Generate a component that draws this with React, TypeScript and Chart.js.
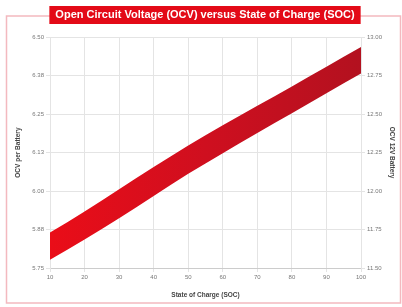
import React, { useEffect, useRef } from "react";
import { Chart, registerables } from "chart.js";

Chart.register(...registerables);

const soc = [10, 20, 30, 40, 50, 60, 70, 80, 90, 100];
const ocvUpper = [5.865, 5.934, 6.006, 6.078, 6.148, 6.214, 6.277, 6.34, 6.404, 6.468];
const ocvLower = [5.777, 5.843, 5.912, 5.984, 6.056, 6.123, 6.189, 6.253, 6.318, 6.382];
const leftTicks = [5.75, 5.875, 6.0, 6.125, 6.25, 6.375, 6.5];
const rightTicks = [11.5, 11.75, 12.0, 12.25, 12.5, 12.75, 13.0];
const xTicks = [10, 20, 30, 40, 50, 60, 70, 80, 90, 100];

const titleText = "Open Circuit Voltage (OCV) versus State of Charge (SOC)";
const xTitle = "State of Charge (SOC)";
const yTitle = "OCV per Battery";
const y2Title = "OCV 12V Battery";

const FONT = "'Liberation Sans', Arial, sans-serif";

const framePlugin = {
  id: "frame",
  beforeDraw(chart: any) {
    const ctx = chart.ctx;
    ctx.save();
    ctx.fillStyle = "#ffffff";
    ctx.fillRect(0, 0, chart.width, chart.height);
    ctx.strokeStyle = "#f3b9bf";
    ctx.lineWidth = 1.5;
    ctx.strokeRect(6.5, 16, 394, 287);
    // title box
    ctx.font = `bold 11px ${FONT}`;
    const w = ctx.measureText(titleText).width;
    const cx = chart.titleBlock
      ? chart.titleBlock.left + chart.titleBlock.width / 2
      : chart.width / 2;
    ctx.fillStyle = "#e30a17";
    ctx.fillRect(cx - w / 2 - 6, 6, w + 12, 18);
    ctx.restore();
  },
};

export default function App() {
  const ref = useRef<HTMLCanvasElement | null>(null);

  useEffect(() => {
    if (!ref.current) return;
    const makeGradient = (ctx: any) => {
      const chart = ctx.chart;
      const area = chart.chartArea;
      if (!area) return "#d0101c";
      const g = chart.ctx.createLinearGradient(area.left, 0, area.right, 0);
      g.addColorStop(0, "#ea0d18");
      g.addColorStop(0.5, "#cf0f1f");
      g.addColorStop(1, "#b3111f");
      return g;
    };
    const chart = new Chart(ref.current, {
      type: "line",
      data: {
        datasets: [
          {
            label: "lower",
            data: soc.map((x, i) => ({ x, y: ocvLower[i] })),
            borderWidth: 0,
            pointRadius: 0,
            fill: false,
            cubicInterpolationMode: "monotone",
            borderColor: "rgba(0,0,0,0)",
          },
          {
            label: "upper",
            data: soc.map((x, i) => ({ x, y: ocvUpper[i] })),
            borderWidth: 0,
            pointRadius: 0,
            fill: "-1",
            cubicInterpolationMode: "monotone",
            borderColor: "rgba(0,0,0,0)",
            backgroundColor: makeGradient,
          },
        ],
      },
      options: {
        animation: false,
        responsive: false,
        layout: { padding: { left: 10, right: 2, top: 0, bottom: 4 } },
        plugins: {
          legend: { display: false },
          tooltip: { enabled: false },
          title: {
            display: true,
            text: titleText,
            color: "#ffffff",
            font: { family: FONT, size: 11, weight: "bold" },
            padding: { top: 8, bottom: 16 },
          },
        },
        scales: {
          x: {
            type: "linear",
            min: 10,
            max: 100,
            afterBuildTicks: (s: any) => {
              s.ticks = xTicks.map((v) => ({ value: v }));
            },
            afterFit: (s: any) => {
              s.height = 35;
            },
            ticks: {
              color: "#777",
              font: { family: FONT, size: 6 },
              padding: 2,
              maxRotation: 0,
            },
            grid: { color: "#e4e4e4", tickLength: 4 },
            border: { color: "#cccccc" },
            title: {
              display: true,
              text: xTitle,
              color: "#444",
              font: { family: FONT, size: 6.5, weight: "bold" },
              padding: { top: 2, bottom: 4 },
            },
          },
          y: {
            type: "linear",
            position: "left",
            min: 5.75,
            max: 6.5,
            afterBuildTicks: (s: any) => {
              s.ticks = leftTicks.map((v) => ({ value: v }));
            },
            afterFit: (s: any) => {
              s.width = 40;
            },
            ticks: {
              color: "#777",
              font: { family: FONT, size: 6 },
              padding: 2,
              callback: (v: any) => Number(v).toFixed(2),
            },
            grid: { color: "#e4e4e4", tickLength: 4 },
            border: { color: "#e4e4e4" },
            title: {
              display: true,
              text: yTitle,
              color: "#444",
              font: { family: FONT, size: 6.5, weight: "bold" },
              padding: { top: 4, bottom: 2 },
            },
          },
          y2: {
            type: "linear",
            position: "right",
            min: 11.5,
            max: 13.0,
            afterBuildTicks: (s: any) => {
              s.ticks = rightTicks.map((v) => ({ value: v }));
            },
            afterFit: (s: any) => {
              s.width = 39;
            },
            ticks: {
              color: "#777",
              font: { family: FONT, size: 6 },
              padding: 2,
              callback: (v: any) => Number(v).toFixed(2),
            },
            grid: { drawOnChartArea: false, color: "#e4e4e4", tickLength: 4 },
            border: { color: "#e4e4e4" },
            title: {
              display: true,
              text: y2Title,
              color: "#444",
              font: { family: FONT, size: 6.5, weight: "bold" },
              padding: { top: 4, bottom: 2 },
            },
          },
        },
      },
      plugins: [framePlugin],
    } as any);
    return () => chart.destroy();
  }, []);

  return (
    <div style={{ position: "fixed", left: 0, top: 0, width: 402, height: 307, background: "#fff" }}>
      <canvas ref={ref} width={402} height={307} style={{ display: "block" }} />
    </div>
  );
}
